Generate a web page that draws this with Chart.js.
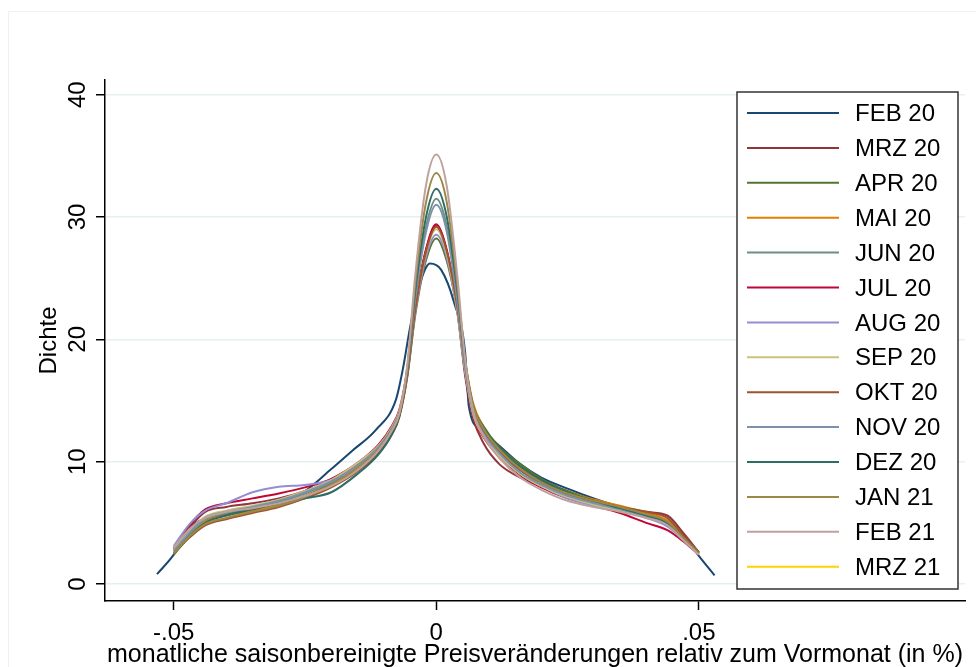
<!DOCTYPE html>
<html lang="de">
<head>
  <meta charset="UTF-8">
  <title>Dichte der monatlichen Preisveränderungen</title>
  <script src="https://cdn.jsdelivr.net/npm/chart.js"></script>
  <style>
    body {
      margin: 0;
      background: #fff;
      font-family: "Liberation Sans", Arial, sans-serif;
    }
    .frame {
      position: absolute;
      left: 8px;
      top: 11px;
      width: 1000px;
      height: 700px;
      border-left: 1px solid #eef1f3;
      border-top: 1px solid #eef1f3;
    }
    canvas {
      position: absolute;
      left: 0;
      top: 0;
    }
  </style>
</head>
<body>
  <div class="frame"></div>
  <canvas id="chart" width="976" height="667"></canvas>

  <script>
    // series labels and Stata s2color colours
    const labels = ['FEB 20', 'MRZ 20', 'APR 20', 'MAI 20', 'JUN 20', 'JUL 20', 'AUG 20',
      'SEP 20', 'OKT 20', 'NOV 20', 'DEZ 20', 'JAN 21', 'FEB 21', 'MRZ 21'];
    const colors = ['#1a476f', '#90353b', '#55752f', '#e37e00', '#6e8e84', '#c10534', '#938dd2',
      '#cac27e', '#a0522d', '#7b92a8', '#2d6d66', '#9c8847', '#bfa19c', '#ffd200'];

    const xTickValues = [-0.05, 0, 0.05];
    const xTickLabels = ['-.05', '0', '.05'];
    const yTickValues = [0, 10, 20, 30, 40];
    const yTickLabels = ['0', '10', '20', '30', '40'];

    // evaluation points (all series except FEB 20)
    const xGrid = [-0.05, -0.047, -0.044, -0.04, -0.035, -0.03, -0.025, -0.02, -0.015, -0.011,
      -0.0085, -0.007, -0.0055, -0.004, -0.002, 0, 0.002, 0.004, 0.0055, 0.007, 0.009, 0.012,
      0.016, 0.02, 0.025, 0.03, 0.035, 0.04, 0.044, 0.047, 0.05];

    // FEB 20 has its own, slightly wider support
    const feb20X = [-0.0532, -0.050, -0.047, -0.044, -0.040, -0.035, -0.030, -0.025, -0.020, -0.016,
      -0.0115, -0.0077, -0.0064, -0.0049, -0.0033, -0.0012, 0.0009, 0.0034, 0.0055, 0.0062, 0.0085,
      0.012, 0.016, 0.020, 0.025, 0.030, 0.035, 0.040, 0.044, 0.047, 0.050, 0.053];
    const feb20 = [0.8, 2.4, 4.5, 5.4, 5.9, 6.2, 6.6, 7.6, 9.4, 10.9, 12.6, 15.05, 17.5, 21.2, 24.3,
      26.2, 25.7, 23.0, 18.9, 14.5, 12.6, 11.3, 9.8, 8.7, 7.8, 7.0, 6.3, 5.7, 5.0, 4.0, 2.3, 0.7];

    const mrz20 = [2.8, 4.6, 5.9, 6.3, 6.6, 7.0, 7.6, 8.5, 9.8, 11.3, 12.7, 14.0, 17.3, 22.6, 27.2, 29.3,
      27.1, 22.3, 17.0, 13.6, 11.5, 9.8, 8.7, 8.0, 7.2, 6.7, 6.3, 5.9, 5.6, 4.2, 2.6];
    const apr20 = [2.4, 3.9, 5.1, 5.7, 6.1, 6.5, 7.2, 8.2, 9.5, 11.0, 12.5, 13.9, 17.0, 22.0, 26.4, 28.25,
      26.4, 22.3, 17.8, 14.6, 12.9, 11.2, 9.8, 8.6, 7.6, 6.9, 6.3, 5.6, 5.0, 3.8, 2.5];
    const mai20 = [2.6, 4.0, 5.1, 5.6, 6.0, 6.5, 7.2, 8.1, 9.4, 10.9, 12.4, 13.8, 17.2, 22.4, 27.1, 29.2,
      27.2, 22.8, 18.2, 14.8, 12.8, 11.0, 9.5, 8.4, 7.5, 6.9, 6.4, 5.8, 5.2, 3.9, 2.6];
    const jun20 = [2.7, 4.1, 5.3, 5.8, 6.2, 6.7, 7.4, 8.3, 9.6, 11.1, 12.6, 14.0, 17.6, 23.5, 29.1, 31.5,
      29.2, 23.3, 17.8, 14.3, 12.5, 10.9, 9.3, 8.2, 7.3, 6.7, 6.2, 5.6, 5.0, 3.7, 2.5];
    const jul20 = [2.9, 4.8, 6.1, 6.6, 7.0, 7.4, 7.9, 8.6, 9.9, 11.4, 12.9, 14.3, 17.6, 22.7, 27.3, 29.4,
      27.3, 22.5, 17.3, 13.8, 12.0, 10.4, 8.9, 7.9, 7.0, 6.4, 5.8, 5.0, 4.4, 3.5, 2.4];
    const aug20 = [3.1, 4.9, 6.0, 6.6, 7.5, 7.95, 8.1, 8.5, 9.6, 11.1, 12.6, 14.0, 17.3, 22.2, 26.7, 28.55,
      26.7, 22.2, 17.4, 14.0, 12.2, 10.6, 9.0, 8.0, 7.0, 6.4, 6.0, 5.4, 4.7, 3.6, 2.4];
    const sep20 = [2.8, 4.3, 5.5, 6.0, 6.4, 6.9, 7.6, 8.5, 9.9, 11.3, 12.8, 14.2, 17.5, 22.5, 27.0, 29.0,
      27.0, 22.4, 17.4, 13.9, 12.1, 10.5, 9.0, 8.0, 7.1, 6.5, 6.0, 5.5, 4.9, 3.7, 2.5];
    const okt20 = [2.5, 3.8, 4.8, 5.3, 5.8, 6.3, 7.0, 7.9, 9.2, 10.7, 12.2, 13.7, 17.1, 22.4, 27.1, 29.2,
      27.2, 22.6, 17.8, 14.4, 12.5, 10.8, 9.3, 8.3, 7.4, 6.8, 6.3, 5.9, 5.4, 4.0, 2.6];
    const nov20 = [2.7, 4.2, 5.4, 5.9, 6.3, 6.8, 7.5, 8.4, 9.7, 11.2, 12.7, 14.1, 17.5, 23.3, 28.7, 31.0,
      28.8, 23.1, 17.6, 14.1, 12.3, 10.7, 9.1, 8.1, 7.2, 6.6, 6.1, 5.5, 4.9, 3.7, 2.5];
    const dez20 = [2.5, 3.9, 5.0, 5.6, 6.1, 6.6, 7.0, 7.5, 9.0, 10.6, 12.2, 13.8, 17.6, 24.0, 29.9, 32.3,
      30.0, 24.0, 18.2, 14.6, 12.8, 11.1, 9.6, 8.5, 7.5, 6.8, 6.2, 5.6, 5.0, 3.8, 2.5];
    const jan21 = [2.5, 3.9, 4.9, 5.4, 5.9, 6.4, 7.1, 8.1, 9.5, 11.0, 12.6, 14.0, 17.8, 24.6, 31.1, 33.6,
      31.2, 24.5, 18.3, 14.6, 12.7, 11.0, 9.4, 8.3, 7.4, 6.8, 6.3, 5.7, 5.1, 3.8, 2.5];
    const feb21 = [3.0, 4.5, 5.4, 5.9, 6.2, 6.6, 7.2, 8.0, 9.3, 10.9, 12.5, 14.0, 18.0, 25.3, 32.5, 35.1,
      32.5, 25.2, 18.3, 14.2, 12.1, 10.3, 8.7, 7.7, 6.8, 6.3, 5.9, 5.4, 4.8, 3.6, 2.4];
    const mrz21 = []; // not visible in the figure

    const seriesY = [feb20, mrz20, apr20, mai20, jun20, jul20, aug20, sep20, okt20, nov20, dez20,
      jan21, feb21, mrz21];

    const toPoints = (xs, ys) => ys.map((y, i) => ({ x: xs[i], y: y }));

    const datasets = seriesY.map((ys, i) => ({
      label: labels[i],
      data: toPoints(i === 0 ? feb20X : xGrid, ys),
      borderColor: colors[i],
      borderWidth: 2,
      pointRadius: 0,
      fill: false,
      cubicInterpolationMode: 'monotone',
      order: seriesY.length - i // later series on top, as in Stata
    }));

    const font = { family: '"Liberation Sans", Arial, sans-serif', size: 24 };

    // y tick labels are rotated like Stata's
    const yTickLabelPlugin = {
      id: 'yTickLabelPlugin',
      afterDraw(chart) {
        const ctx = chart.ctx;
        const y = chart.scales.y;
        ctx.save();
        ctx.font = '24px "Liberation Sans", Arial, sans-serif';
        ctx.fillStyle = '#000';
        ctx.textAlign = 'center';
        ctx.textBaseline = 'middle';
        yTickValues.forEach((v, i) => {
          ctx.save();
          ctx.translate(78, y.getPixelForValue(v));
          ctx.rotate(-Math.PI / 2);
          ctx.fillText(yTickLabels[i], 0, 0);
          ctx.restore();
        });
        ctx.restore();
      }
    };

    // boxed legend inside the plot region
    const boxLegendPlugin = {
      id: 'boxLegendPlugin',
      afterDraw(chart) {
        const ctx = chart.ctx;
        ctx.save();
        ctx.fillStyle = '#fff';
        ctx.fillRect(737, 92, 221, 497);
        ctx.strokeStyle = '#333';
        ctx.lineWidth = 1.5;
        ctx.strokeRect(737, 92, 221, 497);
        ctx.font = '24px "Liberation Sans", Arial, sans-serif';
        ctx.textBaseline = 'middle';
        ctx.textAlign = 'left';
        chart.data.datasets.forEach((ds, i) => {
          const yy = 113 + i * 34.9;
          ctx.strokeStyle = ds.borderColor;
          ctx.lineWidth = 2;
          ctx.beginPath();
          ctx.moveTo(747, yy);
          ctx.lineTo(839, yy);
          ctx.stroke();
          ctx.fillStyle = '#000';
          ctx.fillText(ds.label, 855, yy + 1.5);
        });
        ctx.restore();
      }
    };

    new Chart(document.getElementById('chart'), {
      type: 'line',
      data: { datasets: datasets },
      plugins: [yTickLabelPlugin, boxLegendPlugin],
      options: {
        responsive: false,
        animation: false,
        devicePixelRatio: 1,
        layout: { padding: { top: 80, right: 11, left: 0, bottom: 0 } },
        plugins: {
          legend: { display: false },
          tooltip: { enabled: false }
        },
        scales: {
          x: {
            type: 'linear',
            min: -0.0631,
            max: 0.1007,
            afterBuildTicks: s => { s.ticks = xTickValues.map(v => ({ value: v })); },
            afterFit: s => { s.height = 66; },
            ticks: {
              autoSkip: false,
              maxRotation: 0,
              padding: 9,
              color: '#000',
              font: font,
              callback: v => xTickLabels[xTickValues.indexOf(v)]
            },
            grid: {
              drawOnChartArea: false,
              tickLength: 9,
              tickColor: '#000',
              tickWidth: 1.5
            },
            border: { color: '#000', width: 1.5 },
            title: {
              display: true,
              text: 'monatliche saisonbereinigte Preisveränderungen relativ zum Vormonat (in %)',
              color: '#000',
              font: { family: font.family, size: 25, lineHeight: 0.94 },
              padding: { top: 0, bottom: 0 }
            }
          },
          y: {
            type: 'linear',
            min: -1.39,
            max: 41.2,
            afterBuildTicks: s => { s.ticks = yTickValues.map(v => ({ value: v })); },
            afterFit: s => { s.width = 105; },
            ticks: { display: false },
            grid: {
              color: '#e6eff1',
              lineWidth: 1.5,
              tickLength: 9,
              tickColor: '#000',
              tickWidth: 1.5
            },
            border: { color: '#000', width: 1.5 },
            title: {
              display: true,
              text: 'Dichte',
              color: '#000',
              font: font,
              padding: { top: 35, bottom: 0 }
            }
          }
        }
      }
    });
  </script>
</body>
</html>
